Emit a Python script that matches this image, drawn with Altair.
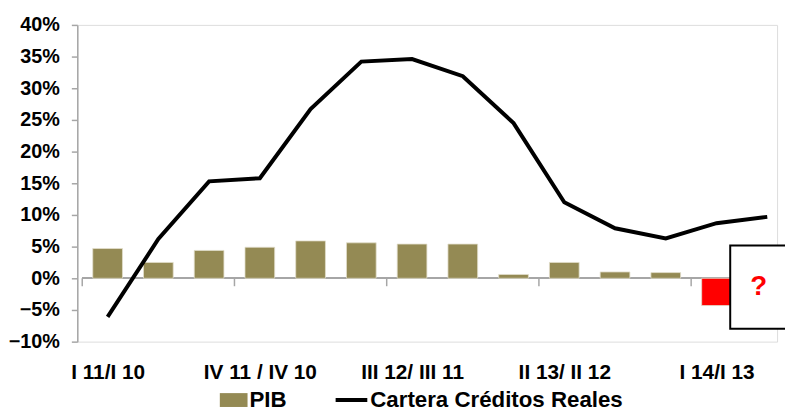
import altair as alt
import pandas as pd

# ---- data ----
quarters = ["I 11/I 10", "II 11/II 10", "III 11/III 10", "IV 11 / IV 10",
            "I 12/I 11", "II 12/II 11", "III 12/ III 11", "IV 12/IV 11",
            "I 13/I 12", "II 13/ II 12", "III 13/III 12", "IV 13/IV 12",
            "I 14/I 13", "II 14/II 13"]
shown_every = 3
pib = [0.047, 0.025, 0.044, 0.049, 0.059, 0.056, 0.054, 0.054,
       0.006, 0.025, 0.010, 0.009, -0.043, None]
pib_kind = ["PIB"] * 12 + ["PIB est", None]
cartera = [-0.061, 0.062, 0.153, 0.158, 0.267, 0.342, 0.346, 0.319,
           0.245, 0.120, 0.079, 0.063, 0.087, 0.097]
y_ticks = [-0.10, -0.05, 0.0, 0.05, 0.10, 0.15, 0.20, 0.25, 0.30, 0.35, 0.40]

# annotation box ("?") in data units
box_x = [12.27]
box_x2 = [13.6]
box_y = [0.0516]
box_y2 = [-0.0797]
q_x = [12.83]
q_y = [-0.014]

OLIVE = "#948A54"
RED = "#FF0000"
GRAY = "#A6A6A6"
FONT = "Liberation Sans"

n = len(quarters)
idx = list(range(n))
df = pd.DataFrame({"idx": idx, "quarter": quarters, "pib": pib,
                   "kind": pib_kind, "cartera": cartera,
                   "serie": ["Cartera Créditos Reales"] * n})
bars_df = df.dropna(subset=["pib"])

label_idx = idx[::shown_every]
label_arr = "[" + ",".join("'" + q + "'" for q in quarters) + "]"
boundaries = [i - 0.5 for i in label_idx]
ticks_df = pd.DataFrame({"b": boundaries, "y0": [0.0] * len(boundaries),
                         "y1": [-0.0125] * len(boundaries)})

xscale = alt.Scale(domain=[-0.5, 13.096], nice=False, zero=False)
yscale = alt.Scale(domain=[-0.10, 0.40], nice=False, zero=False)

x_axis = alt.Axis(values=label_idx, labelExpr=label_arr + "[datum.value]",
                  domain=False, ticks=False, grid=False, title=None,
                  labelFont=FONT, labelFontSize=21, labelFontWeight="bold",
                  labelColor="black", labelPadding=20, labelAngle=0,
                  labelOverlap=False)
y_axis = alt.Axis(values=y_ticks, format=".0%", grid=False, title=None,
                  domainColor=GRAY, domainWidth=1.5, tickColor=GRAY,
                  tickWidth=1.5, tickSize=6, labelFont=FONT, labelFontSize=20,
                  labelFontWeight="bold", labelColor="black", labelPadding=12,
                  labelOverlap=False, labelFlush=False)

base = alt.Chart(df)

zero = base.mark_rule(color=GRAY, strokeWidth=1.5).encode(
    x=alt.XDatum(-0.5, scale=xscale, axis=x_axis), x2=alt.datum(13.6),
    y=alt.YDatum(0.0, scale=yscale, axis=y_axis))

xticks = alt.Chart(ticks_df).mark_rule(color=GRAY, strokeWidth=1.5).encode(
    x=alt.X("b:Q", scale=xscale, axis=x_axis),
    y=alt.Y("y0:Q", scale=yscale, axis=y_axis), y2="y1:Q")

bars = alt.Chart(bars_df).mark_bar(size=30, stroke="#E2DECB", strokeWidth=0.8).encode(
    x=alt.X("idx:Q", scale=xscale, axis=x_axis),
    y=alt.Y("pib:Q", scale=yscale, axis=y_axis),
    color=alt.Color("kind:N",
                    scale=alt.Scale(domain=["PIB", "PIB est"], range=[OLIVE, RED]),
                    legend=alt.Legend(values=["PIB"], title=None, orient="none",
                                      legendX=144, legendY=365,
                                      symbolType="M-1,-0.5H1V0.5H-1Z",
                                      symbolSize=784, symbolStrokeWidth=0,
                                      labelFont=FONT, labelFontSize=22.5,
                                      labelFontWeight="bold", labelColor="black",
                                      labelOffset=2, labelLimit=400)),
)

line = base.mark_line(strokeWidth=4, strokeJoin="miter").encode(
    x=alt.X("idx:Q", scale=xscale, axis=x_axis),
    y=alt.Y("cartera:Q", scale=yscale, axis=y_axis),
    stroke=alt.Stroke("serie:N",
                      scale=alt.Scale(domain=["Cartera Créditos Reales"], range=["black"]),
                      legend=alt.Legend(title=None, orient="none",
                                        legendX=259, legendY=361,
                                        symbolType="stroke", symbolSize=1024,
                                        symbolStrokeWidth=4,
                                        labelFont=FONT, labelFontSize=22.5,
                                        labelFontWeight="bold", labelColor="black",
                                        labelOffset=1, labelLimit=400)),
)

box_df = pd.DataFrame({"x": box_x, "x2": box_x2, "y": box_y, "y2": box_y2})
box = alt.Chart(box_df).mark_rect(fill="white", stroke="black", strokeWidth=2).encode(
    x=alt.X("x:Q", scale=xscale, axis=x_axis), x2="x2:Q",
    y=alt.Y("y:Q", scale=yscale, axis=y_axis), y2="y2:Q")

q_df = pd.DataFrame({"x": q_x, "y": q_y, "t": ["?"]})
qmark = alt.Chart(q_df).mark_text(color=RED, font=FONT, fontSize=28,
                                  fontWeight="bold").encode(
    x=alt.X("x:Q", scale=xscale, axis=x_axis),
    y=alt.Y("y:Q", scale=yscale, axis=y_axis), text="t:N")

chart = alt.layer(zero, xticks, bars, line, box, qmark).properties(
    width=707, height=320,
    autosize=alt.AutoSizeParams(type="none"),
    padding={"left": 70, "top": 15, "right": 8, "bottom": 69},
).configure_view(stroke=None).configure(background="white")

chart.save("out.html", embed_options={"renderer": "svg", "actions": False})
